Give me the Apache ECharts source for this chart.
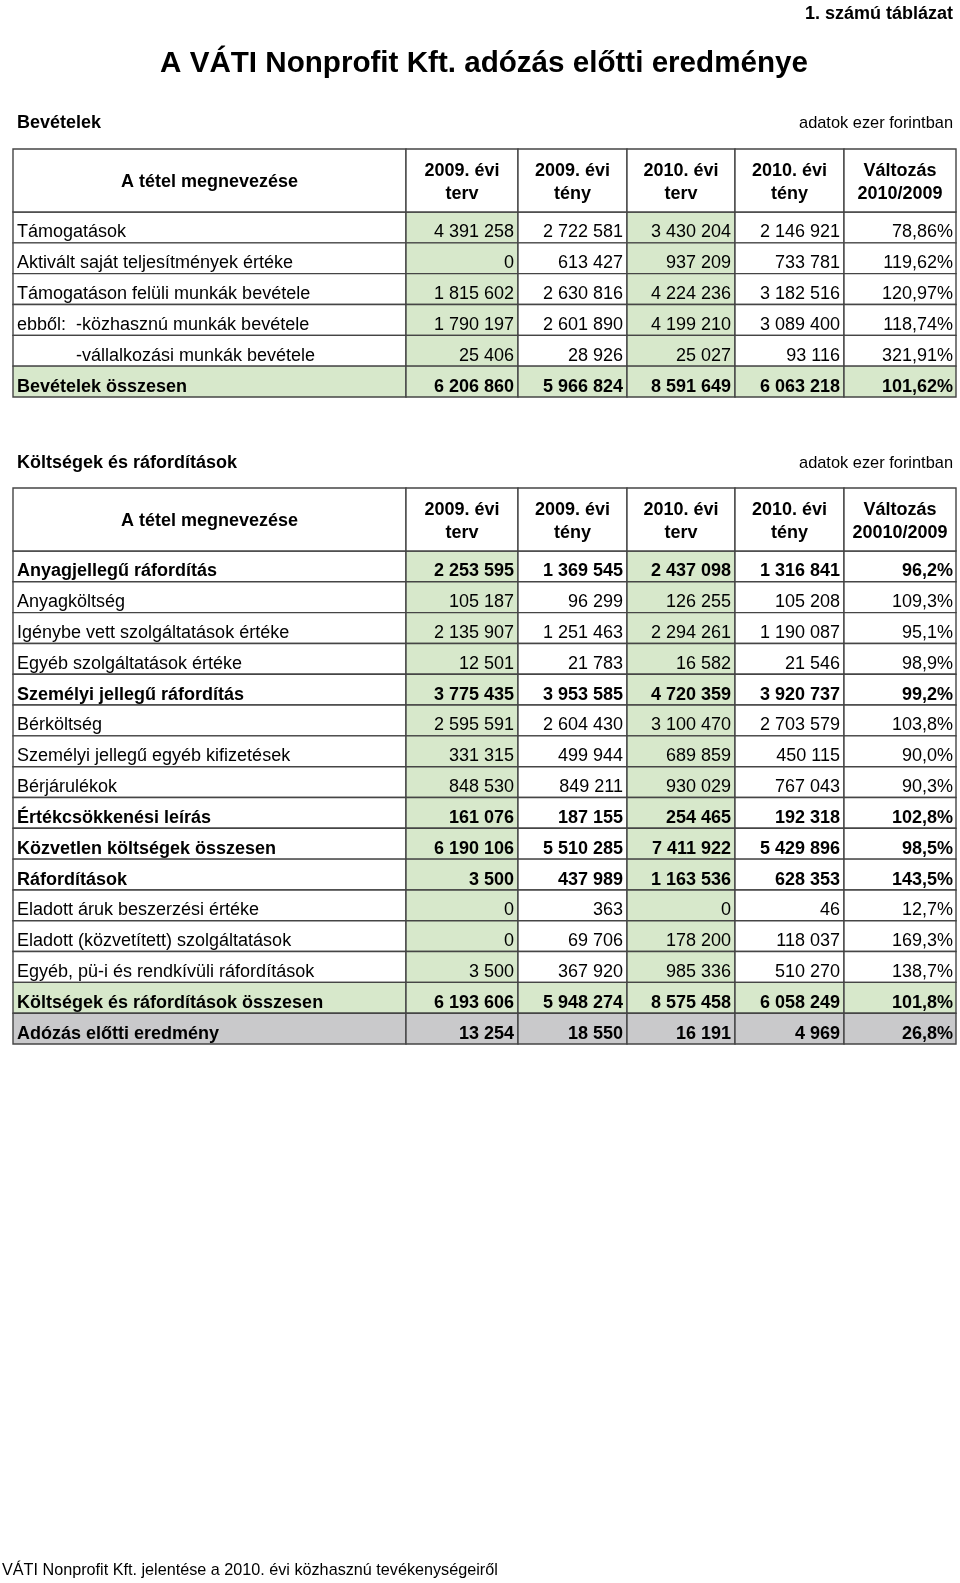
<!DOCTYPE html>
<html>
<head>
<meta charset="utf-8">
<script src="https://cdn.jsdelivr.net/npm/echarts@6/dist/echarts.min.js"></script>
<style>html,body{margin:0;padding:0;background:#fff}#chart{width:960px;height:1583px}</style>
</head>
<body>
<div id="chart"></div>
<script>
// ---------- DATA ----------
const revLabels = [
  'Támogatások',
  'Aktivált saját teljesítmények értéke',
  'Támogatáson felüli munkák bevétele',
  'ebből:  -közhasznú munkák bevétele',
  '-vállalkozási munkák bevétele',
  'Bevételek összesen'
];
const rev2009Plan   = [4391258, 0, 1815602, 1790197, 25406, 6206860];
const rev2009Actual = [2722581, 613427, 2630816, 2601890, 28926, 5966824];
const rev2010Plan   = [3430204, 937209, 4224236, 4199210, 25027, 8591649];
const rev2010Actual = [2146921, 733781, 3182516, 3089400, 93116, 6063218];
const revChange     = [78.86, 119.62, 120.97, 118.74, 321.91, 101.62];

const costLabels = [
  'Anyagjellegű ráfordítás',
  'Anyagköltség',
  'Igénybe vett szolgáltatások értéke',
  'Egyéb szolgáltatások értéke',
  'Személyi jellegű ráfordítás',
  'Bérköltség',
  'Személyi jellegű egyéb kifizetések',
  'Bérjárulékok',
  'Értékcsökkenési leírás',
  'Közvetlen költségek összesen',
  'Ráfordítások',
  'Eladott áruk beszerzési értéke',
  'Eladott (közvetített) szolgáltatások',
  'Egyéb, pü-i és rendkívüli ráfordítások',
  'Költségek és ráfordítások összesen',
  'Adózás előtti eredmény'
];
const cost2009Plan   = [2253595, 105187, 2135907, 12501, 3775435, 2595591, 331315, 848530, 161076, 6190106, 3500, 0, 0, 3500, 6193606, 13254];
const cost2009Actual = [1369545, 96299, 1251463, 21783, 3953585, 2604430, 499944, 849211, 187155, 5510285, 437989, 363, 69706, 367920, 5948274, 18550];
const cost2010Plan   = [2437098, 126255, 2294261, 16582, 4720359, 3100470, 689859, 930029, 254465, 7411922, 1163536, 0, 178200, 985336, 8575458, 16191];
const cost2010Actual = [1316841, 105208, 1190087, 21546, 3920737, 2703579, 450115, 767043, 192318, 5429896, 628353, 46, 118037, 510270, 6058249, 4969];
const costChange     = [96.2, 109.3, 95.1, 98.9, 99.2, 103.8, 90.0, 90.3, 102.8, 98.5, 143.5, 12.7, 169.3, 138.7, 101.8, 26.8];

const revHeaders  = ['A tétel megnevezése', '2009. évi\nterv', '2009. évi\ntény', '2010. évi\nterv', '2010. évi\ntény', 'Változás\n2010/2009'];
const costHeaders = ['A tétel megnevezése', '2009. évi\nterv', '2009. évi\ntény', '2010. évi\nterv', '2010. évi\ntény', 'Változás\n20010/2009'];

// ---------- STYLE / LAYOUT ----------
const FONT = '"Liberation Sans", Arial, sans-serif';
const LINE = '#454545';
const GREEN = '#d7e8cb';
const GREY = '#c9c9cb';
const colEdges = [0, 393, 505, 614, 722, 831, 943];
const HEADER_H = 63;

const sections = [
  {labels: revLabels, cols: [rev2009Plan, rev2009Actual, rev2010Plan, rev2010Actual], change: revChange, dec: 2,
   headers: revHeaders, bold: [5], greenRows: [5], greyRows: [], indent: {4: 59}},
  {labels: costLabels, cols: [cost2009Plan, cost2009Actual, cost2010Plan, cost2010Actual], change: costChange, dec: 1,
   headers: costHeaders, bold: [0, 4, 8, 9, 10, 14, 15], greenRows: [14], greyRows: [15], indent: {}}
];

function fmtNum(v) {
  return String(v).replace(/\B(?=(\d{3})+(?!\d))/g, ' ');
}
function fmtPct(v, dec) {
  return v.toFixed(dec).replace('.', ',') + '%';
}
function txt(text, x, y, align, font, extra) {
  return Object.assign({type: 'text', style: {text: text, x: x, y: y, textAlign: align, textVerticalAlign: 'middle',
    align: align, verticalAlign: 'middle', font: font, fill: '#000'}}, extra || {});
}

function bodyRenderer(sec) {
  return function (params, api) {
    const i = params.dataIndex;
    const yc = api.coord([0, i])[1];
    const h = api.size([0, 1])[1];
    const top = yc - h / 2;
    const isBold = sec.bold.indexOf(i) >= 0;
    const font = (isBold ? 'bold ' : '') + '18px ' + FONT;
    const children = [];
    for (let c = 0; c < 6; c++) {
      const x0 = api.coord([colEdges[c], i])[0];
      const x1 = api.coord([colEdges[c + 1], i])[0];
      let fill = '#fff';
      if (sec.greyRows.indexOf(i) >= 0) fill = GREY;
      else if (sec.greenRows.indexOf(i) >= 0) fill = GREEN;
      else if (c === 1 || c === 3) fill = GREEN;
      children.push({type: 'rect', shape: {x: x0, y: top, width: x1 - x0, height: h},
        style: {fill: fill, stroke: LINE, lineWidth: 1.4}});
      let text, tx, align;
      if (c === 0) {
        text = sec.labels[i]; tx = x0 + 4 + (sec.indent[i] || 0); align = 'left';
      } else if (c < 5) {
        text = fmtNum(sec.cols[c - 1][i]); tx = x1 - 4; align = 'right';
      } else {
        text = fmtPct(sec.change[i], sec.dec); tx = x1 - 3; align = 'right';
      }
      children.push(txt(text, tx, yc + 5, align, font));
    }
    return {type: 'group', children: children};
  };
}

function headerRenderer(sec) {
  return function (params, api) {
    const yc = api.coord([0, 0])[1];
    const h = api.size([0, 1])[1];
    const top = yc - h / 2 - HEADER_H;
    const children = [];
    for (let c = 0; c < 6; c++) {
      const x0 = api.coord([colEdges[c], 0])[0];
      const x1 = api.coord([colEdges[c + 1], 0])[0];
      children.push({type: 'rect', shape: {x: x0, y: top, width: x1 - x0, height: HEADER_H},
        style: {fill: '#fff', stroke: LINE, lineWidth: 1.4}});
      const t = txt(sec.headers[c], (x0 + x1) / 2, top + HEADER_H / 2 + 2, 'center', 'bold 18px ' + FONT);
      t.style.lineHeight = 23;
      children.push(t);
    }
    return {type: 'group', children: children};
  };
}

const grids = [
  {left: 13, width: 943, top: 212, height: 185},
  {left: 13, width: 943, top: 551, height: 493}
];

const xAxes = [], yAxes = [], series = [];
sections.forEach(function (sec, k) {
  xAxes.push({type: 'value', gridIndex: k, min: 0, max: 943, show: false});
  yAxes.push({type: 'category', gridIndex: k, data: sec.labels, inverse: true, show: false, boundaryGap: true});
  series.push({type: 'custom', xAxisIndex: k, yAxisIndex: k, clip: false, silent: true,
    data: sec.labels.map(function (l, i) { return [0, i]; }),
    encode: {x: 0, y: 1}, renderItem: bodyRenderer(sec)});
  series.push({type: 'custom', xAxisIndex: k, yAxisIndex: k, clip: false, silent: true,
    data: [[0, 0]], encode: {x: 0, y: 1}, renderItem: headerRenderer(sec)});
});

const chart = echarts.init(document.getElementById('chart'), null, {renderer: 'canvas'});
chart.setOption({
  backgroundColor: '#fff',
  animation: false,
  grid: grids,
  xAxis: xAxes,
  yAxis: yAxes,
  series: series,
  graphic: [
    txt('1. számú táblázat', 953, 14, 'right', 'bold 18px ' + FONT),
    txt('A VÁTI Nonprofit Kft. adózás előtti eredménye', 484, 64, 'center', 'bold 29.6px ' + FONT),
    txt('Bevételek', 17, 123, 'left', 'bold 18px ' + FONT),
    txt('adatok ezer forintban', 953, 123, 'right', '16.4px ' + FONT),
    txt('Költségek és ráfordítások', 17, 463, 'left', 'bold 18px ' + FONT),
    txt('adatok ezer forintban', 953, 463, 'right', '16.4px ' + FONT),
    txt('VÁTI Nonprofit Kft. jelentése a 2010. évi közhasznú tevékenységeiről', 2, 1571, 'left', '16.2px ' + FONT)
  ]
});
</script>
</body>
</html>
